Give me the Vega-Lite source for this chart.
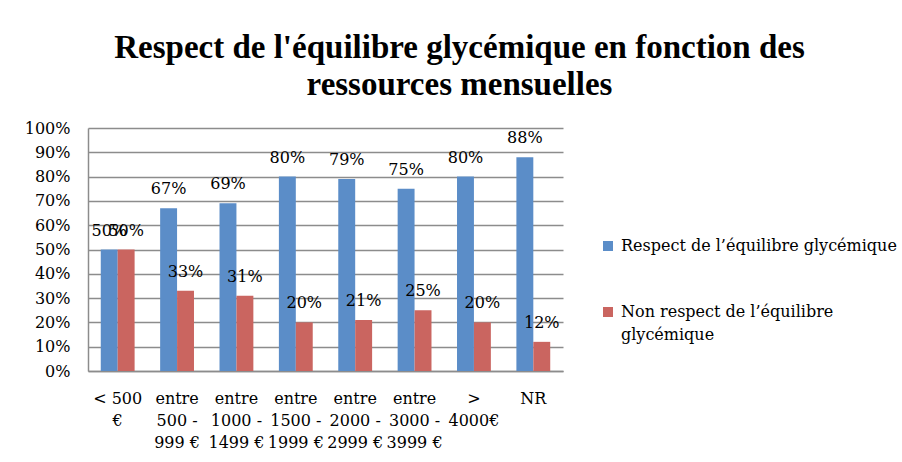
{
  "$schema": "https://vega.github.io/schema/vega-lite/v6.json",
  "width": 475,
  "height": 243,
  "autosize": {"type": "none"},
  "padding": {"left": 88, "top": 128, "right": 339, "bottom": 91},
  "background": "white",
  "title": {
    "text": ["Respect de l'équilibre glycémique en fonction des", "ressources mensuelles"],
    "font": "Liberation Serif",
    "fontWeight": "bold",
    "fontSize": 33,
    "color": "black",
    "anchor": "middle",
    "frame": "group",
    "dx": 134,
    "offset": 18,
    "lineHeight": 37
  },
  "config": {
    "view": {"stroke": null},
    "style": {"guide-label": {"lineHeight": 23}}
  },
  "data": {
    "values": [
      {"categorie": "< 500 €", "serie": "Respect de l’équilibre glycémique", "valeur": 0.50},
      {"categorie": "< 500 €", "serie": "Non respect de l’équilibre glycémique", "valeur": 0.50},
      {"categorie": "entre 500 - 999 €", "serie": "Respect de l’équilibre glycémique", "valeur": 0.67},
      {"categorie": "entre 500 - 999 €", "serie": "Non respect de l’équilibre glycémique", "valeur": 0.33},
      {"categorie": "entre 1000 - 1499 €", "serie": "Respect de l’équilibre glycémique", "valeur": 0.69},
      {"categorie": "entre 1000 - 1499 €", "serie": "Non respect de l’équilibre glycémique", "valeur": 0.31},
      {"categorie": "entre 1500 - 1999 €", "serie": "Respect de l’équilibre glycémique", "valeur": 0.80},
      {"categorie": "entre 1500 - 1999 €", "serie": "Non respect de l’équilibre glycémique", "valeur": 0.20},
      {"categorie": "entre 2000 - 2999 €", "serie": "Respect de l’équilibre glycémique", "valeur": 0.79},
      {"categorie": "entre 2000 - 2999 €", "serie": "Non respect de l’équilibre glycémique", "valeur": 0.21},
      {"categorie": "entre 3000 - 3999 €", "serie": "Respect de l’équilibre glycémique", "valeur": 0.75},
      {"categorie": "entre 3000 - 3999 €", "serie": "Non respect de l’équilibre glycémique", "valeur": 0.25},
      {"categorie": "> 4000€", "serie": "Respect de l’équilibre glycémique", "valeur": 0.80},
      {"categorie": "> 4000€", "serie": "Non respect de l’équilibre glycémique", "valeur": 0.20},
      {"categorie": "NR", "serie": "Respect de l’équilibre glycémique", "valeur": 0.88},
      {"categorie": "NR", "serie": "Non respect de l’équilibre glycémique", "valeur": 0.12}
    ]
  },
  "encoding": {
    "x": {
      "field": "categorie",
      "type": "nominal",
      "sort": null,
      "scale": {"paddingInner": 0.43, "paddingOuter": 0.215},
      "axis": {
        "title": null,
        "labelAngle": 0,
        "ticks": false,
        "domainColor": "#8c8c8c",
        "domainWidth": 1.5,
        "labelFont": "DejaVu Serif",
        "labelFontSize": 16,
        "labelColor": "black",
        "labelPadding": 19,
        "labelLineHeight": 22,
        "labelBaseline": "top",
        "labelExpr": "{'< 500 €': ['< 500', '€'], 'entre 500 - 999 €': ['entre', '500 -', '999 €'], 'entre 1000 - 1499 €': ['entre', '1000 -', '1499 €'], 'entre 1500 - 1999 €': ['entre', '1500 -', '1999 €'], 'entre 2000 - 2999 €': ['entre', '2000 -', '2999 €'], 'entre 3000 - 3999 €': ['entre', '3000 -', '3999 €'], '> 4000€': ['>', '4000€'], 'NR': ['NR']}[datum.label]"
      }
    },
    "xOffset": {
      "field": "serie",
      "type": "nominal",
      "sort": ["Respect de l’équilibre glycémique", "Non respect de l’équilibre glycémique"]
    },
    "y": {
      "field": "valeur",
      "type": "quantitative",
      "scale": {"domain": [0, 1]},
      "axis": {
        "title": null,
        "values": [0, 0.1, 0.2, 0.3, 0.4, 0.5, 0.6, 0.7, 0.8, 0.9, 1],
        "format": ".0%",
        "grid": true,
        "gridColor": "#8c8c8c",
        "gridWidth": 1.5,
        "ticks": false,
        "domainColor": "#8c8c8c",
        "domainWidth": 1.5,
        "labelFont": "DejaVu Serif",
        "labelFontSize": 16,
        "labelColor": "black",
        "labelPadding": 18
      }
    }
  },
  "layer": [
    {
      "mark": {"type": "bar"},
      "encoding": {
        "color": {
          "field": "serie",
          "type": "nominal",
          "scale": {
            "domain": ["Respect de l’équilibre glycémique", "Non respect de l’équilibre glycémique"],
            "range": ["#5b8dc8", "#ca6560"]
          },
          "legend": {
            "orient": "none",
            "legendX": 512,
            "legendY": 110,
            "title": null,
            "symbolType": "square",
            "symbolSize": 100,
            "symbolStrokeWidth": 0,
            "labelFont": "DejaVu Serif",
            "labelFontSize": 16,
            "labelColor": "black",
            "labelOffset": 5,
            "rowPadding": 50,
            "labelLimit": 400,
            "labelBaseline": "middle",
            "labelExpr": "datum.label == 'Non respect de l’équilibre glycémique' ? ['Non respect de l’équilibre', 'glycémique'] : datum.label"
          }
        }
      }
    },
    {
      "mark": {"type": "text", "baseline": "bottom", "dy": -11, "font": "DejaVu Serif", "fontSize": 16, "color": "black"},
      "encoding": {
        "text": {"field": "valeur", "type": "quantitative", "format": ".0%"}
      }
    }
  ]
}
